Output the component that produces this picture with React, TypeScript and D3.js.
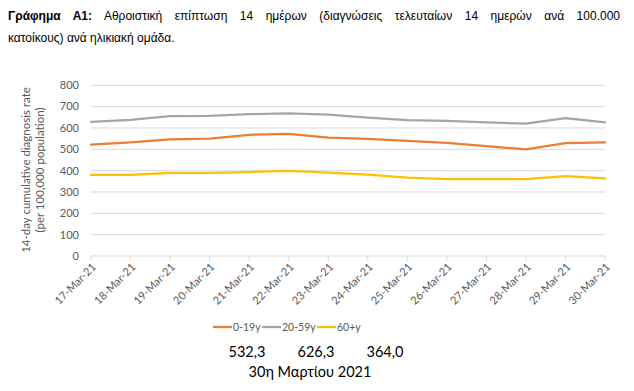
import { useEffect, useRef } from 'react';
import * as d3 from 'd3';

const dates = [
  '17-Mar-21', '18-Mar-21', '19-Mar-21', '20-Mar-21', '21-Mar-21', '22-Mar-21', '23-Mar-21',
  '24-Mar-21', '25-Mar-21', '26-Mar-21', '27-Mar-21', '28-Mar-21', '29-Mar-21', '30-Mar-21',
];
const age0to19 = [522, 532, 547, 550, 568, 572, 555, 549, 539, 530, 515, 500, 529, 532.3];
const age20to59 = [629, 638, 656, 657, 665, 668, 663, 648, 637, 633, 626, 620, 646, 626.3];
const age60plus = [380, 380, 389, 389, 393, 399, 391, 381, 367, 360, 360, 360, 374, 364.0];
const yTicks = [0, 100, 200, 300, 400, 500, 600, 700, 800];
const seriesNames = ['0-19y', '20-59y', '60+y'];
const latestValues = ['532,3', '626,3', '364,0'];

const W = 634;
const H = 391;

export default function App() {
  const svgRef = useRef<SVGSVGElement>(null);

  useEffect(() => {
    if (!svgRef.current) return;
    const svg = d3.select(svgRef.current);
    svg.selectAll('*').remove();

    const font = 'Lato, "Open Sans", sans-serif';
    const grey = '#595959';
    const titleFont = '"Liberation Sans", Arial, sans-serif';

    // Title, justified on the first line
    const line1 = svg.append('text')
      .attr('x', 8).attr('y', 20)
      .attr('font-family', titleFont)
      .attr('font-size', 12)
      .attr('fill', '#000');
    line1.append('tspan').attr('font-weight', 'bold').text('Γράφημα Α1:');
    line1.append('tspan').text(' Αθροιστική επίπτωση 14 ημέρων (διαγνώσεις τελευταίων 14 ημερών ανά 100.000');
    const node = line1.node() as SVGTextElement;
    const len = node.getComputedTextLength();
    const spaces = 11;
    line1.attr('word-spacing', Math.max(0, (612 - len) / spaces));

    svg.append('text')
      .attr('x', 8).attr('y', 42)
      .attr('font-family', titleFont)
      .attr('font-size', 12)
      .attr('fill', '#000')
      .text('κατοίκους) ανά ηλικιακή ομάδα.');

    const x = d3.scalePoint<string>().domain(dates).range([91, 605]);
    const y = d3.scaleLinear().domain([0, 800]).range([256, 85.3]);

    // Gridlines
    svg.append('g')
      .selectAll('line')
      .data(yTicks)
      .enter()
      .append('line')
      .attr('x1', 91).attr('x2', 605)
      .attr('y1', d => y(d)).attr('y2', d => y(d))
      .attr('stroke', '#d9d9d9')
      .attr('stroke-width', 1);

    // Y tick labels
    svg.append('g')
      .selectAll('text')
      .data(yTicks)
      .enter()
      .append('text')
      .attr('x', 79)
      .attr('y', d => y(d))
      .attr('dy', '0.35em')
      .attr('text-anchor', 'end')
      .attr('font-family', font)
      .attr('font-size', 11)
      .attr('fill', grey)
      .text(d => d);

    // X tick marks + labels
    const xg = svg.append('g');
    xg.selectAll('line')
      .data(dates)
      .enter()
      .append('line')
      .attr('x1', d => x(d)!).attr('x2', d => x(d)!)
      .attr('y1', 256).attr('y2', 261)
      .attr('stroke', '#d9d9d9');
    xg.selectAll('text')
      .data(dates)
      .enter()
      .append('text')
      .attr('transform', d => `translate(${x(d)! + 3},${265}) rotate(-45)`)
      .attr('text-anchor', 'end')
      .attr('dy', '0.35em')
      .attr('font-family', font)
      .attr('font-size', 11)
      .attr('fill', grey)
      .text(d => d);

    // Y axis title
    const yt = svg.append('text')
      .attr('transform', 'translate(30,170) rotate(-90)')
      .attr('text-anchor', 'middle')
      .attr('font-family', font)
      .attr('font-size', 11.5)
      .attr('fill', grey);
    yt.append('tspan').attr('x', 0).attr('dy', 0).text('14-day cumulative diagnosis rate');
    yt.append('tspan').attr('x', 0).attr('dy', 14).text('(per 100,000 population)');

    // Lines
    const colors = ['#ed7d31', '#a5a5a5', '#ffc000'];
    const series = [age0to19, age20to59, age60plus];
    const line = d3.line<number>()
      .x((_, i) => x(dates[i])!)
      .y(d => y(d));
    svg.append('g')
      .selectAll('path')
      .data(series)
      .enter()
      .append('path')
      .attr('d', d => line(d))
      .attr('fill', 'none')
      .attr('stroke', (_, i) => colors[i])
      .attr('stroke-width', 2.25)
      .attr('stroke-linejoin', 'round')
      .attr('stroke-linecap', 'round');

    // Legend
    const legendX = [213, 262, 317];
    const lg = svg.append('g');
    seriesNames.forEach((name, i) => {
      lg.append('line')
        .attr('x1', legendX[i]).attr('x2', legendX[i] + 19)
        .attr('y1', 327).attr('y2', 327)
        .attr('stroke', colors[i])
        .attr('stroke-width', 2.25);
      lg.append('text')
        .attr('x', legendX[i] + 20)
        .attr('y', 327)
        .attr('dy', '0.35em')
        .attr('font-family', font)
        .attr('font-size', 10.5)
        .attr('fill', grey)
        .text(name);
    });

    // Latest values
    const valueX = [247, 316, 385];
    svg.append('g')
      .selectAll('text')
      .data(latestValues)
      .enter()
      .append('text')
      .attr('x', (_, i) => valueX[i])
      .attr('y', 357)
      .attr('text-anchor', 'middle')
      .attr('font-family', font)
      .attr('font-size', 14.5)
      .attr('fill', '#000')
      .text(d => d);

    svg.append('text')
      .attr('x', 310)
      .attr('y', 377)
      .attr('text-anchor', 'middle')
      .attr('font-family', font)
      .attr('font-size', 14.5)
      .attr('fill', '#000')
      .text('30η Μαρτίου 2021');
  }, []);

  return (
    <svg
      ref={svgRef}
      width={W}
      height={H}
      style={{ position: 'absolute', left: 0, top: 0, background: '#fff' }}
    />
  );
}
